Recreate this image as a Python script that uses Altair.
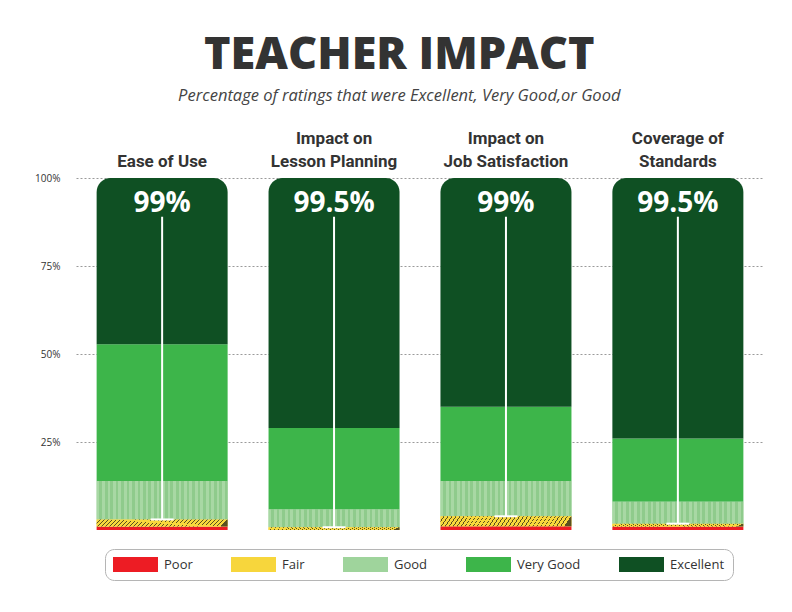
import altair as alt
import pandas as pd

categories = ["Ease of Use", "Impact on\nLesson Planning", "Impact on\nJob Satisfaction", "Coverage of\nStandards"]
top_labels = ["99%", "99.5%", "99%", "99.5%"]
ratings = ["Poor", "Fair", "Good", "Very Good", "Excellent"]
poor = [1.0, 0.0, 1.1, 1.0]
fair = [2.0, 0.8, 2.8, 0.8]
good = [10.9, 5.0, 10.0, 6.2]
very_good = [38.9, 23.2, 21.1, 18.0]
excellent = [47.2, 71.0, 65.0, 74.0]
y_ticks = [25, 50, 75, 100]

colors = ["#ED1C24", "#F7D63C", "#9FD49C", "#3DB54A", "#0F5023"]

series = [poor, fair, good, very_good, excellent]
rows = []
for i, cat in enumerate(categories):
    acc = 0.0
    for r, vals in zip(ratings, series):
        v = vals[i]
        rows.append({"category": cat, "rating": r, "y0": acc, "y1": acc + v, "value": v})
        acc += v
df = pd.DataFrame(rows)

cat_df = pd.DataFrame({
    "category": categories,
    "label": top_labels,
    "line_bottom": [p + f for p, f in zip(poor, fair)],
})


def stripes(c1, c2, n, frac):
    stops = []
    for i in range(n):
        a = i / n
        b = (i + frac) / n
        c = (i + 1) / n
        stops += [{"offset": a, "color": c1}, {"offset": b, "color": c1},
                  {"offset": b, "color": c2}, {"offset": c, "color": c2}]
    return stops


good_fill = {"gradient": "linear", "x1": 0, "y1": 0, "x2": 1, "y2": 0,
             "stops": stripes("#A8D8A4", "#8FCB8C", 24, 0.5)}
fair_fill = {"gradient": "linear", "x1": 0, "y1": 0, "x2": 1, "y2": 0.05,
             "stops": stripes("#F8D83C", "#5A5020", 33, 0.78)}

xscale = alt.Scale(paddingInner=0.238, paddingOuter=0.12)
x_axis = alt.Axis(orient="top", title=None, labelAngle=0, ticks=False, domain=False,
                  labelExpr="indexof(datum.label, '\\n') < 0 ? ['', datum.label] : split(datum.label, '\\n')",
                  labelFont="Liberation Sans Narrow, Roboto, sans-serif",
                  labelFontSize=17, labelFontWeight="bold", labelColor="#333333", labelLineHeight=23,
                  labelPadding=48, labelBaseline="top", grid=False)
yscale = alt.Scale(domain=[0, 100], nice=False)
y_axis = alt.Axis(title=None, values=y_ticks, labelExpr="datum.value + '%'", ticks=False, domain=False,
                  labelFont="Open Sans", labelFontSize=10, labelColor="#333333", labelPadding=16,
                  grid=True, gridDash=[2, 2], gridColor="#9a9a9a", gridWidth=1)

color = alt.Color("rating:N", scale=alt.Scale(domain=ratings, range=colors),
                  legend=alt.Legend(orient="none", legendX=29, legendY=371, direction="horizontal",
                                    columns=5, title=None, symbolType="M-3,-1H3V1H-3Z",
                                    symbolSize=225, symbolStrokeWidth=0, symbolOffset=15,
                                    labelFontSize=13, labelFont="Open Sans", labelColor="#333333",
                                    columnPadding=38, labelOffset=21, padding=8,
                                    strokeColor="#b5b5b5", cornerRadius=9))

X = alt.X("category:N", sort=categories, scale=xscale, axis=x_axis)
Y = alt.Y("y1:Q", scale=yscale, axis=y_axis)

base = alt.Chart(df)

bars = base.transform_filter(alt.datum.rating != "Excellent").mark_bar().encode(
    x=X, y=Y, y2="y0:Q", color=color,
)
bars_top = base.transform_filter(alt.datum.rating == "Excellent").mark_bar(
    cornerRadiusTopLeft=14, cornerRadiusTopRight=14).encode(
    x=X, y=Y, y2="y0:Q", color=color,
)
good_layer = base.transform_filter(alt.datum.rating == "Good").mark_bar(fill=good_fill).encode(
    x=X, y=Y, y2="y0:Q")
fair_layer = base.transform_filter(alt.datum.rating == "Fair").mark_bar(fill=fair_fill).encode(
    x=X, y=Y, y2="y0:Q")

cbase = alt.Chart(cat_df).transform_calculate(line_top="89", label_y="100")
rule = cbase.mark_rule(color="white", strokeWidth=2).encode(
    x=X, y=alt.Y("line_top:Q", scale=yscale, axis=y_axis), y2="line_bottom:Q")
foot = cbase.mark_tick(color="white", thickness=2, size=23, opacity=1).encode(
    x=X, y=alt.Y("line_bottom:Q", scale=yscale, axis=y_axis))
text = cbase.mark_text(font="Open Sans", fontSize=28, fontWeight="bold", color="white",
                       baseline="middle", dy=26).encode(
    x=X, y=alt.Y("label_y:Q", scale=yscale, axis=y_axis), text="label:N")

chart = alt.layer(bars, bars_top, good_layer, fair_layer, rule, foot, text).properties(
    width=688, height=352,
    padding={"left": 26, "right": 5, "top": 24, "bottom": 5},
    title=alt.TitleParams(text="TEACHER IMPACT",
                          subtitle="Percentage of ratings that were Excellent, Very Good,or Good",
                          font="Open Sans", fontSize=45, fontWeight=800, color="#333333",
                          subtitleFont="Open Sans", subtitleFontStyle="italic", subtitleFontSize=16.5,
                          subtitleColor="#444444", subtitlePadding=10, anchor="middle", frame="bounds",
                          offset=25),
).configure_view(stroke=None)

chart.save("out.html", embed_options={"renderer": "svg", "actions": False})
